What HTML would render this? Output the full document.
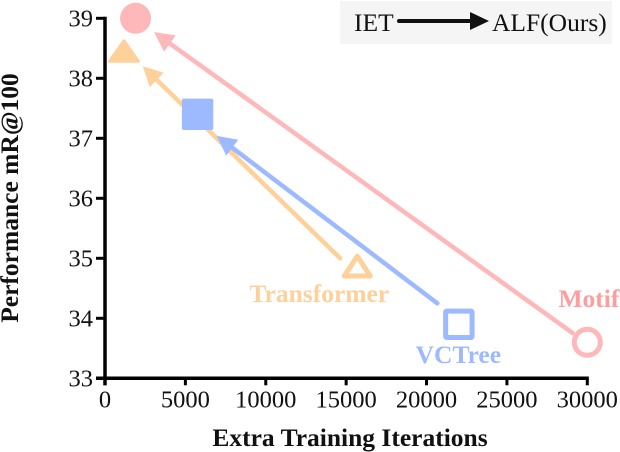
<!DOCTYPE html>
<html>
<head>
<meta charset="utf-8">
<style>
html,body{margin:0;padding:0;background:#fff;width:620px;height:452px;overflow:hidden}
svg{display:block}
text{font-family:"Liberation Serif",serif}
</style>
</head>
<body>
<svg id="chart" width="620" height="452" viewBox="0 0 620 452" xmlns="http://www.w3.org/2000/svg">
  <g>
    <rect x="340" y="1" width="272" height="43" fill="#f5f5f5"/>
    <text x="354" y="31" font-size="25.5" fill="#111">IET</text>
    <line x1="399" y1="21" x2="474" y2="21" stroke="#111" stroke-width="4" stroke-linecap="round"/>
    <polygon points="470,12 489,21 470,30" fill="#111"/>
    <text x="492" y="31" font-size="25.5" fill="#111">ALF(Ours)</text>
  </g>
  <g id="marks"></g>
  <g id="axes"></g>
  <text x="350" y="446" font-size="25.5" font-weight="bold" text-anchor="middle" fill="#111">Extra Training Iterations</text>
  <text transform="translate(18,198) rotate(-90)" font-size="25.5" font-weight="bold" text-anchor="middle" fill="#111">Performance mR@100</text>
</svg>
<script>
var xTicks = [0, 5000, 10000, 15000, 20000, 25000, 30000];
var yTicks = [33, 34, 35, 36, 37, 38, 39];
var seriesNames = ['Motif', 'Transformer', 'VCTree'];
var seriesColors = ['#ffb8ba', '#fed09a', '#9db9ff'];
var labelColors = ['#ff9c9e', '#fed09a', '#9db9ff'];
var markerShapes = ['circle', 'triangle', 'square'];
var ietX = [30000, 15690, 22010];
var ietY = [33.6, 34.8, 33.9];
var alfX = [1900, 1180, 5760];
var alfY = [39, 38.4, 37.4];
var arrowStartX = [29080, 14630, 20670];
var arrowStartY = [33.755, 35.0, 34.25];
var arrowEndX = [3050, 2350, 6950];
var arrowEndY = [38.77, 38.2, 37.04];
var labelX = [30100, 13330, 21980];
var labelY = [34.19, 34.27, 33.255];

var NS = 'http://www.w3.org/2000/svg';
function sx(v) { return 105 + v / 30000 * 482.3; }
function sy(v) { return 378.3 - (v - 33) * 60; }
function make(parent, tag, attrs) {
  var el = document.createElementNS(NS, tag);
  for (var k in attrs) el.setAttribute(k, attrs[k]);
  parent.appendChild(el);
  return el;
}
var marks = document.getElementById('marks');
var axes = document.getElementById('axes');

function drawMarker(i, cx, cy, hollow, name) {
  var c = seriesColors[i], shape = markerShapes[i], el;
  if (shape === 'circle') {
    var r = hollow ? 13 : 15.5;
    el = make(marks, 'circle', {cx: cx, cy: cy, r: r, fill: hollow ? 'none' : c, stroke: hollow ? c : 'none', 'stroke-width': hollow ? 5 : 0});
  } else if (shape === 'square') {
    if (hollow) {
      el = make(marks, 'rect', {x: cx - 13.2, y: cy - 13.2, width: 26.4, height: 26.4, rx: 1, fill: 'none', stroke: c, 'stroke-width': 5});
    } else {
      el = make(marks, 'rect', {x: cx - 15.7, y: cy - 15.7, width: 31.4, height: 31.4, rx: 2, fill: c});
    }
  } else {
    if (hollow) {
      var pts = [[cx, cy - 14], [cx + 13, cy + 5.7], [cx - 13, cy + 5.7]].map(function (p) { return p.join(','); }).join(' ');
      el = make(marks, 'polygon', {points: pts, fill: 'none', stroke: c, 'stroke-width': 5, 'stroke-linejoin': 'round'});
    } else {
      var pts2 = [[cx, cy - 13.5], [cx + 14.5, cy + 7], [cx - 14.5, cy + 7]].map(function (p) { return p.join(','); }).join(' ');
      el = make(marks, 'polygon', {points: pts2, fill: c, stroke: c, 'stroke-width': 3, 'stroke-linejoin': 'round'});
    }
  }
  
  
}

seriesNames.forEach(function (n, i) {
  var key = n.toLowerCase();
  var x1 = sx(arrowStartX[i]), y1 = sy(arrowStartY[i]);
  var x2 = sx(arrowEndX[i]), y2 = sy(arrowEndY[i]);
  var dx = x2 - x1, dy = y2 - y1, len = Math.sqrt(dx * dx + dy * dy);
  var ux = dx / len, uy = dy / len;
  var headLen = 19.5, headHalf = 10;
  var bx = x2 - ux * headLen, by = y2 - uy * headLen;
  var shaft = make(marks, 'line', {x1: x1, y1: y1, x2: bx + ux * 4, y2: by + uy * 4, stroke: seriesColors[i], 'stroke-width': 4.5, 'stroke-linecap': 'round'});
  
  
  var head = make(marks, 'polygon', {points: x2 + ',' + y2 + ' ' + (bx - uy * headHalf) + ',' + (by + ux * headHalf) + ' ' + (bx + uy * headHalf) + ',' + (by - ux * headHalf), fill: seriesColors[i]});
  
  
});

seriesNames.forEach(function (n, i) {
  var key = n.toLowerCase();
  drawMarker(i, sx(ietX[i]), sy(ietY[i]), true, key + '-iet-marker');
  drawMarker(i, sx(alfX[i]), sy(alfY[i]), false, key + '-alf-marker');
  var t = make(marks, 'text', {x: sx(labelX[i]), y: sy(labelY[i]), 'font-size': 25.5, 'font-weight': 'bold', 'text-anchor': 'middle', fill: labelColors[i]});
  
  
  t.textContent = n;
});

var ySpine = make(axes, 'line', {x1: 105, y1: sy(39) - 1.5, x2: 105, y2: sy(33) + 7, stroke: '#000', 'stroke-width': 3.5});


var xSpine = make(axes, 'line', {x1: 96, y1: sy(33), x2: sx(30000) + 1.5, y2: sy(33), stroke: '#000', 'stroke-width': 3.5});



xTicks.forEach(function (v) {
  var tick = make(axes, 'line', {x1: sx(v), y1: sy(33), x2: sx(v), y2: sy(33) + 7, stroke: '#000', 'stroke-width': 3});
  
  
  var label = make(axes, 'text', {x: sx(v), y: 407.5, 'font-size': 24.5, 'text-anchor': 'middle', fill: '#111'});
  
  
  label.textContent = v;
});
yTicks.forEach(function (v) {
  var tick = make(axes, 'line', {x1: 96, y1: sy(v), x2: 105, y2: sy(v), stroke: '#000', 'stroke-width': 3});
  
  
  var label = make(axes, 'text', {x: 93, y: sy(v) + 8, 'font-size': 24.5, 'text-anchor': 'end', fill: '#111'});
  
  
  label.textContent = v;
});
</script>
</body>
</html>
